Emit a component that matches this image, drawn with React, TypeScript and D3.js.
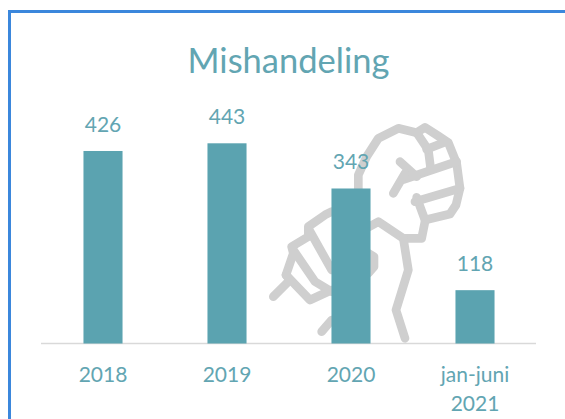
import React from "react";
import * as d3 from "d3";

const categories = ["2018", "2019", "2020", "jan-juni\n2021"];
const values = [426, 443, 343, 118];
const title = "Mishandeling";

const W = 565, H = 419;
const BLUE = "#3b87dc", TEAL = "#5ba3b0", LABEL = "#62a5b2", GREY = "#cfcfcf";

// decorative fist illustration behind the bars, in its own local coordinates
const fistPaths = [
  "M295 240 L295 195 L320 140 L355 85 L415 55 L470 68 L495 52 L535 78 L565 98 L590 160 L600 235 L588 285 L570 312 L495 330 L470 262",
  "M470 68 L505 120 L512 175",
  "M500 118 L558 95",
  "M432 208 L590 155",
  "M465 275 L600 235",
  "M420 155 L470 200",
  "M400 250 L435 190",
  "M495 335 L485 385 L430 385 L355 335 L325 352",
  "M430 385 L445 480 L408 600 L435 685",
  "M40 560 L90 510 L78 495 L100 430 L95 410 L145 380 L145 350 L195 315 L215 305",
  "M100 420 L165 515 L215 545",
  "M78 495 L150 570 L215 540",
  "M145 355 L215 480",
  "M185 665 L215 630",
  "M325 430 L342 440 L342 470 L325 490",
];

export default function App() {
  const x = d3.scaleBand<string>().domain(categories).range([41, 537]).paddingInner(0.685).paddingOuter(0.3425);
  const y = d3.scaleLinear().domain([0, 443]).range([343.5, 143.3]);
  return (
    <svg width={W} height={H} style={{ position: "absolute", left: 0, top: 0, fontFamily: "Lato, Carlito, sans-serif" }}>
      <rect width={W} height={H} fill="#fff" />
      <rect x={9.5} y={11.5} width={W + 20} height={H + 20} fill="none" stroke={BLUE} strokeWidth={3} />
      <text x={288.5} y={73} textAnchor="middle" fontSize={34.5} fill={LABEL}>{title}</text>
      <g transform="translate(260 110) scale(0.3333)" fill="none" stroke={GREY} strokeWidth={26} strokeLinecap="round" strokeLinejoin="round">
        {fistPaths.map((d) => <path key={d} d={d} />)}
      </g>
      <line x1={41} x2={536} y1={343.5} y2={343.5} stroke="#d9d9d9" strokeWidth={1.5} />
      {categories.map((c, i) => {
        const bx = x(c)!;
        const cx = bx + x.bandwidth() / 2;
        return (
          <g key={c}>
            <rect x={bx} y={y(values[i])} width={x.bandwidth()} height={y(0) - y(values[i])} fill={TEAL} />
            <text x={cx} y={y(values[i]) - 19} textAnchor="middle" fontSize={21} fill={LABEL}>{values[i]}</text>
            {c.split("\n").map((line, j) => (
              <text key={line} x={cx} y={381.5 + j * 29} textAnchor="middle" fontSize={21} fill={LABEL}>{line}</text>
            ))}
          </g>
        );
      })}
    </svg>
  );
}
